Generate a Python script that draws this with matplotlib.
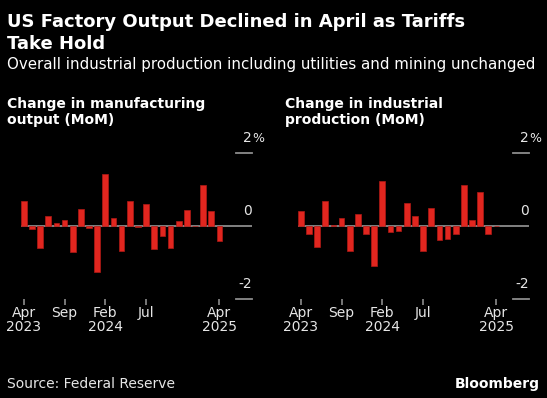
import numpy as np
import matplotlib.pyplot as plt

# Monthly change, Apr 2023 .. Apr 2025 (%)
months = ['Apr 2023', 'May 2023', 'Jun 2023', 'Jul 2023', 'Aug 2023', 'Sep 2023',
          'Oct 2023', 'Nov 2023', 'Dec 2023', 'Jan 2024', 'Feb 2024', 'Mar 2024',
          'Apr 2024', 'May 2024', 'Jun 2024', 'Jul 2024', 'Aug 2024', 'Sep 2024',
          'Oct 2024', 'Nov 2024', 'Dec 2024', 'Jan 2025', 'Feb 2025', 'Mar 2025',
          'Apr 2025']
manufacturing = [0.68, -0.09, -0.61, 0.26, 0.07, 0.16, -0.73, 0.47, -0.07, -1.28,
                 1.42, 0.20, -0.68, 0.68, -0.03, 0.59, -0.64, -0.28, -0.61, 0.13,
                 0.43, -0.02, 1.12, 0.40, -0.41]
industrial = [0.41, -0.22, -0.57, 0.68, 0.02, 0.22, -0.69, 0.31, -0.23, -1.10,
              1.23, -0.18, -0.14, 0.62, 0.27, -0.69, 0.49, -0.39, -0.36, -0.24,
              1.11, 0.15, 0.92, -0.23, -0.02]
tick_pos = [0, 5, 10, 15, 24]
tick_labels = ['Apr\n2023', 'Sep', 'Feb\n2024', 'Jul', 'Apr\n2025']
y_ticks = [2, 0, -2]

BG = 'black'
RED = '#e1261f'
GREY = '#8c8c8c'
TXT = '#e6e6e6'
W, H = 547, 398

fig = plt.figure(figsize=(W / 100, H / 100), dpi=100, facecolor=BG)

def px_axes(left, top, width, height):
    return fig.add_axes([left / W, 1 - (top + height) / H, width / W, height / H])

def panel(ax, values):
    ax.set_facecolor(BG)
    x = np.arange(len(values))
    ax.bar(x, values, width=0.7, color=RED, edgecolor='#b01a15', linewidth=0.5, zorder=3)
    ax.set_xlim(-0.35, 28.0)
    ax.set_ylim(-2, 2)
    ax.axhline(0, color=GREY, lw=1.3, zorder=2)
    for v in y_ticks:
        if v != 0:
            ax.plot([26.0, 28.0], [v, v], color=GREY, lw=1.3, clip_on=False)
        ax.text(28.0, v + 0.22, str(v), color=TXT, fontsize=10, ha='right', va='bottom')
        if v == 2:
            ax.text(28.0, v + 0.22, '%', color=TXT, fontsize=9, ha='left', va='bottom')
    for s in ax.spines.values():
        s.set_visible(False)
    ax.set_yticks([])
    ax.set_xticks(tick_pos)
    ax.set_xticklabels(tick_labels, color=TXT, fontsize=10, linespacing=1.0)
    ax.tick_params(axis='x', colors=GREY, labelcolor=TXT, length=4.5, width=1.2, pad=1)

ax1 = px_axes(21, 152.7, 231, 146)
panel(ax1, manufacturing)
ax2 = px_axes(298, 152.7, 231, 146)
panel(ax2, industrial)

fig.text(7 / W, 1 - 33 / H, 'US Factory Output Declined in April as Tariffs\nTake Hold',
         color='white', fontsize=13, fontweight='bold', va='center', ha='left',
         linespacing=1.25)
fig.text(7 / W, 1 - 65 / H,
         'Overall industrial production including utilities and mining unchanged',
         color='white', fontsize=10.8, va='center', ha='left')
fig.text(7 / W, 1 - 112 / H, 'Change in manufacturing\noutput (MoM)', color='white',
         fontsize=10, fontweight='bold', va='center', ha='left', linespacing=1.15)
fig.text(285 / W, 1 - 112 / H, 'Change in industrial\nproduction (MoM)', color='white',
         fontsize=10, fontweight='bold', va='center', ha='left', linespacing=1.15)
fig.text(7 / W, 1 - 384 / H, 'Source: Federal Reserve', color=TXT, fontsize=10,
         va='center', ha='left')
fig.text(540 / W, 1 - 384 / H, 'Bloomberg', color='white', fontsize=10,
         fontweight='bold', va='center', ha='right')

fig.savefig('out.png', dpi=100, facecolor=BG)
